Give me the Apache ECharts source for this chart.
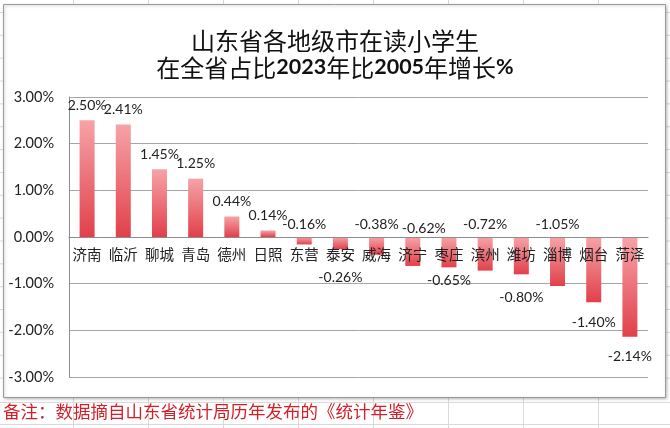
<!DOCTYPE html>
<html><head><meta charset="utf-8">
<script src="https://cdn.jsdelivr.net/npm/echarts@6/dist/echarts.min.js"></script>
<style>html,body{margin:0;padding:0;background:#fff}#c{width:670px;height:428px}</style>
</head><body><div id="c"></div>
<script>
const categories = ['济南','临沂','聊城','青岛','德州','日照','东营','泰安','威海','济宁','枣庄','滨州','潍坊','淄博','烟台','菏泽'];
const values = [2.50, 2.41, 1.45, 1.25, 0.44, 0.14, -0.16, -0.26, -0.38, -0.62, -0.65, -0.72, -0.80, -1.05, -1.40, -2.14];
const yMin = -3, yMax = 3, yStep = 1;
const titleLine1 = '山东省各地级市在读小学生';
const titleLine2 = '在全省占比{b|2023}年比{b|2005}年增长{b|%}';
const footnote = '备注：数据摘自山东省统计局历年发布的《统计年鉴》';

// label placement (styling, separate from data)
const labelPlace = {
  '东营': {position: 'top', distance: 6},
  '泰安': {position: 'bottom', distance: 21},
  '威海': {position: 'top', distance: 6},
  '济宁': {position: 'top', distance: 2, offset: [11, 0]},
  '枣庄': {position: 'bottom', distance: 6},
  '滨州': {position: 'top', distance: 6},
  '潍坊': {position: 'bottom', distance: 16},
  '淄博': {position: 'top', distance: 6},
  '烟台': {position: 'bottom', distance: 13},
  '菏泽': {position: 'bottom', distance: 13}
};

const barColor = new echarts.graphic.LinearGradient(0, 0, 0, 1, [
  {offset: 0, color: '#f6a3a8'},
  {offset: 1, color: '#e2404a'}
]);

const seriesData = values.map((v, i) => {
  const p = labelPlace[categories[i]] || {position: 'top', distance: 8};
  return {value: v, label: Object.assign({}, p)};
});

const gridTop = 97, gridBottom = 51, chartH = 428;
// vertical offset so that the category axis sits on the zero line
const plotH = chartH - gridTop - gridBottom;
const zeroOffset = -plotH * (0 - yMin) / (yMax - yMin);

const chart = echarts.init(document.getElementById('c'), null, {renderer: 'canvas'});

// spreadsheet background lines
const bg = [];
const lineStyle = {stroke: '#d9d9d9', lineWidth: 1};
[402.5, 424.5].forEach(y => bg.push({type: 'line', shape: {x1: 0, y1: y, x2: 670, y2: y}, style: lineStyle, silent: true, z: -20}));
[73.5,148.5,223.5,298.5,373.5,448.5,523.5,598.5].forEach(x => bg.push({type: 'line', shape: {x1: x, y1: 0, x2: x, y2: 428}, style: lineStyle, silent: true, z: -20}));
for (let y = 12.5; y < 400; y += 22.85) {
  bg.push({type: 'line', shape: {x1: 0, y1: y, x2: 670, y2: y}, style: lineStyle, silent: true, z: -20});
}
bg.push({type: 'rect', shape: {x: 3.5, y: 4.5, width: 662, height: 393}, style: {fill: '#fff', stroke: '#9a9a9a', lineWidth: 1, shadowBlur: 3, shadowColor: 'rgba(0,0,0,0.25)', shadowOffsetX: 1, shadowOffsetY: 1}, silent: true, z: -10});
bg.push({type: 'text', left: 3, top: 403, style: {text: footnote, fill: '#d41f29', font: '17.5px "Noto Sans CJK SC"'}, z: 5});

chart.setOption({
  backgroundColor: '#fff',
  animation: false,
  title: {
    text: titleLine1 + '\n' + titleLine2,
    left: 'center',
    top: 27,
    padding: 0,
    textStyle: {
      fontFamily: '"Noto Sans CJK SC"',
      fontSize: 24,
      fontWeight: 'normal',
      color: '#111',
      lineHeight: 27,
      rich: {
        b: {fontFamily: 'Lato, "Liberation Sans"', fontWeight: 'bold', fontSize: 21.5, color: '#111', lineHeight: 27}
      }
    }
  },
  graphic: {elements: bg},
  grid: {left: 69, right: 22, top: gridTop, bottom: gridBottom, containLabel: false},
  xAxis: {
    type: 'category',
    data: categories,
    position: 'bottom',
    offset: zeroOffset,
    axisLine: {onZero: false, lineStyle: {color: '#8c8c8c', width: 1}},
    axisTick: {show: false},
    axisLabel: {fontFamily: '"Noto Sans CJK SC"', fontSize: 14.5, color: '#222', margin: 10, interval: 0},
    z: 10
  },
  yAxis: {
    type: 'value',
    min: yMin, max: yMax, interval: yStep,
    axisLine: {show: true, lineStyle: {color: '#8c8c8c'}},
    axisTick: {show: false},
    splitLine: {show: true, lineStyle: {color: '#a6a6a6', width: 1}},
    axisLabel: {fontFamily: 'Lato, "Liberation Sans"', fontSize: 14.5, color: '#222', margin: 15,
      formatter: v => v.toFixed(2) + '%'}
  },
  series: [{
    type: 'bar',
    data: seriesData,
    barWidth: 15,
    itemStyle: {color: barColor},
    label: {show: true, fontFamily: 'Lato, "Liberation Sans"', fontSize: 14, color: '#222',
      formatter: p => p.value.toFixed(2) + '%'},
    z: 3
  }]
});
</script></body></html>
